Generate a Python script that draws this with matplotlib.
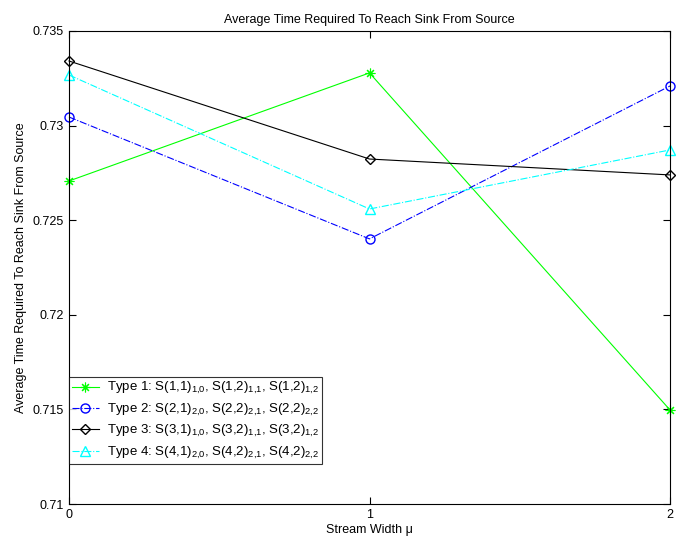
import matplotlib
matplotlib.use("Agg")
import matplotlib.pyplot as plt

plt.rcParams['font.family'] = ['Liberation Sans', 'DejaVu Sans']
plt.rcParams['mathtext.fontset'] = 'custom'
plt.rcParams['mathtext.rm'] = 'Liberation Sans'
plt.rcParams['mathtext.default'] = 'regular'

x = [0, 1, 2]
type1 = [0.72707, 0.73278, 0.71497]
type2 = [0.73045, 0.72401, 0.73209]
type3 = [0.73341, 0.72823, 0.72739]
type4 = [0.73267, 0.72559, 0.72871]

labels = [
    "Type 1: S(1,1)$_{1{,}0}$, S(1,2)$_{1{,}1}$, S(1,2)$_{1{,}2}$",
    "Type 2: S(2,1)$_{2{,}0}$, S(2,2)$_{2{,}1}$, S(2,2)$_{2{,}2}$",
    "Type 3: S(3,1)$_{1{,}0}$, S(3,2)$_{1{,}1}$, S(3,2)$_{1{,}2}$",
    "Type 4: S(4,1)$_{2{,}0}$, S(4,2)$_{2{,}1}$, S(4,2)$_{2{,}2}$",
]
yticks = [0.71, 0.715, 0.72, 0.725, 0.73, 0.735]
ytick_labels = ["0.71", "0.715", "0.72", "0.725", "0.73", "0.735"]

fig = plt.figure(figsize=(6.83, 5.42), dpi=100)
ax = fig.add_axes([0.101, 0.070, 0.880, 0.873])

lw = 0.8
ax.plot(x, type1, color=(0, 1, 0), linestyle='-', marker=(8, 2, 0), markersize=7, markeredgewidth=0.8, lw=lw, label=labels[0], clip_on=False)
ax.plot(x, type2, color=(0, 0, 1), linestyle='-.', marker='o', markersize=6.5, markerfacecolor='none', lw=lw, label=labels[1], clip_on=False)
ax.plot(x, type3, color='black', linestyle='-', marker='D', markersize=5, markerfacecolor='none', lw=lw, label=labels[2], clip_on=False)
ax.plot(x, type4, color=(0, 1, 1), linestyle='-.', marker='^', markersize=7, markerfacecolor='none', lw=lw, label=labels[3], clip_on=False)

ax.set_xlim(0, 2)
ax.set_ylim(0.71, 0.735)
ax.set_xticks([0, 1, 2])
ax.set_xticklabels(["0", "1", "2"])
ax.set_yticks(yticks)
ax.set_yticklabels(ytick_labels)
ax.tick_params(direction='in', length=5, labelsize=9, top=True, right=True, width=0.8)
for s in ax.spines.values():
    s.set_linewidth(0.8)

ax.set_xlabel("Stream Width μ", fontsize=9, labelpad=2)
ax.set_ylabel("Average Time Required To Reach Sink From Source", fontsize=9)
ax.set_title("Average Time Required To Reach Sink From Source", fontsize=9)

leg = ax.legend(loc='lower left', bbox_to_anchor=(0.0, 0.085), fontsize=9.5, frameon=True,
                fancybox=False, edgecolor='black', borderpad=0.25, labelspacing=0.4,
                handlelength=2.0, handletextpad=0.6, borderaxespad=0.0)
leg.get_frame().set_linewidth(0.8)

fig.savefig("out.png", dpi=100)
